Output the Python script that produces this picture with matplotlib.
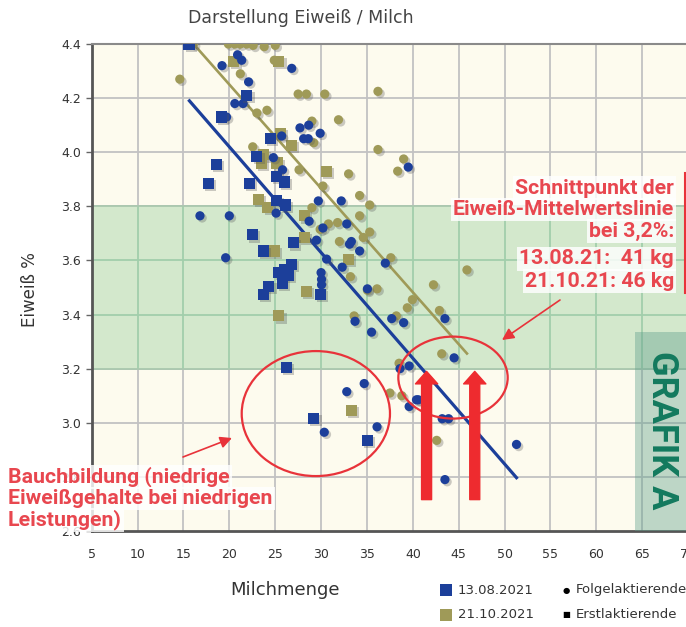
"""
Darstellung Eiweiß / Milch - Streudiagramm mit Mittelwertslinien
"""
import matplotlib

matplotlib.use("Agg")
import matplotlib.patheffects as pe
import matplotlib.pyplot as plt
import numpy as np
from matplotlib.patches import Ellipse, Rectangle

# ---------------------------------------------------------------------------
# Daten
# ---------------------------------------------------------------------------
# 13.08.2021 - Folgelaktierende (Kreise)
blue_circ_x = [20.9, 21.35, 19.2, 22.1, 20.6, 21.5, 19.7, 24.8, 25.7, 26.8, 27.7, 28.65,
               29.9, 28.1, 28.6, 25.8, 29.7, 32.2, 25.1, 16.8, 20.0, 28.7, 30.2, 32.8,
               29.5, 33.1, 33.3, 34.2, 30.6, 19.6, 32.3, 39.5, 37.0, 30.0, 30.05, 30.05,
               35.05, 33.7, 35.5, 37.7, 39.0, 43.5, 44.5, 38.6, 39.6, 39.6, 40.4, 40.6,
               43.2, 43.9, 51.3, 43.5, 32.8, 34.7, 30.35, 36.1]
blue_circ_y = [4.36, 4.34, 4.32, 4.26, 4.18, 4.18, 4.13, 3.98, 4.06, 4.31, 4.09, 4.10,
               4.07, 4.05, 4.05, 3.935, 3.82, 3.82, 3.775, 3.765, 3.765, 3.745, 3.72, 3.735,
               3.675, 3.66, 3.67, 3.635, 3.605, 3.61, 3.575, 3.945, 3.59, 3.555, 3.53, 3.51,
               3.495, 3.375, 3.335, 3.385, 3.37, 3.385, 3.24, 3.20, 3.21, 3.06, 3.085, 3.085,
               3.015, 3.015, 2.92, 2.79, 3.115, 3.145, 2.965, 2.985]

# 13.08.2021 - Erstlaktierende (Quadrate)
blue_sq_x = [15.6, 21.9, 19.1, 24.5, 23.0, 18.6, 17.7, 22.2, 25.1, 26.0, 25.1, 26.1, 22.5,
             23.7, 27.0, 26.8, 25.4, 26.0, 26.4, 25.8, 24.3, 23.7, 29.9, 26.25, 29.2, 35.05]
blue_sq_y = [4.40, 4.21, 4.13, 4.05, 3.985, 3.955, 3.885, 3.885, 3.91, 3.89, 3.82, 3.805, 3.695,
             3.635, 3.665, 3.585, 3.555, 3.565, 3.545, 3.515, 3.505, 3.475, 3.475, 3.205, 3.015, 2.935]

# 21.10.2021 - Folgelaktierende (Kreise)
olive_circ_x = [16.1, 19.9, 20.6, 21.2, 21.9, 22.6, 23.8, 25.0, 24.9, 14.6, 21.2, 23.0, 24.1,
                22.55, 27.5, 28.4, 30.4, 36.2, 29.0, 31.9, 29.2, 36.2, 27.6, 33.0, 30.2, 34.2,
                35.3, 29.0, 34.2, 30.8, 31.8, 29.9, 35.3, 32.0, 34.6, 33.2, 38.35, 39.0, 37.6,
                35.05, 36.1, 33.6, 42.25, 45.9, 39.95, 39.4, 42.9, 38.2, 43.15, 38.5, 37.5,
                38.8, 42.6]
olive_circ_y = [4.40, 4.40, 4.40, 4.40, 4.40, 4.395, 4.39, 4.395, 4.34, 4.27, 4.29, 4.145, 4.155,
                4.02, 4.215, 4.215, 4.215, 4.225, 4.115, 4.12, 4.035, 4.01, 3.935, 3.92, 3.875, 3.84,
                3.805, 3.795, 3.765, 3.735, 3.74, 3.715, 3.705, 3.67, 3.685, 3.54, 3.93, 3.975, 3.61,
                3.49, 3.495, 3.395, 3.51, 3.565, 3.455, 3.425, 3.415, 3.395, 3.255, 3.22, 3.11,
                3.10, 2.935]

# 21.10.2021 - Erstlaktierende (Quadrate)
olive_sq_x = [20.5, 25.4, 25.6, 26.8, 23.7, 23.5, 25.2, 30.6, 23.2, 24.2, 28.2, 28.2, 24.9,
              33.0, 28.4, 25.4, 33.3]
olive_sq_y = [4.335, 4.335, 4.07, 4.025, 3.99, 3.96, 3.96, 3.93, 3.825, 3.795, 3.765, 3.685, 3.635,
              3.605, 3.485, 3.395, 3.045]

# Mittelwertslinien (Endpunkte)
blue_line_x = [15.65, 51.3]
blue_line_y = [4.19, 2.797]
olive_line_x = [16.1, 45.9]
olive_line_y = [4.40, 3.256]

# Schnittpunkte bei 3,2 %
cross_x = [41.5, 46.75]
cross_y_top = 3.19
cross_y_bottom = 2.716

x_ticks = np.arange(5, 75, 5)
y_ticks = [2.6, 2.8, 3.0, 3.2, 3.4, 3.6, 3.8, 4.0, 4.2, 4.4]

BLUE = "#1c3f9a"
OLIVE = "#9f9a58"
RED = "#e8333a"
RED_TXT = "#e8474f"

W, H = 686, 627


def fx(px):
    return px / W


def fy(py):
    return 1 - py / H


fig = plt.figure(figsize=(W / 100, H / 100), dpi=100)
fig.patch.set_facecolor("white")

# x: 5 -> 91.7 px, 9.175 px pro Einheit ; y: 4.4 -> 44 px, 2.6 -> 531 px
ax = fig.add_axes([fx(91.7), fy(531), (72 - 5) * 9.175 / W, (531 - 44) / H])
ax.set_xlim(5, 72)
ax.set_ylim(2.6, 4.4)
ax.set_facecolor("#fdfbee")

# Gitter + grüner Bereich
grid_gray = "#c2c2c2"
grid_green = "#a2ceab"
ax.vlines(x_ticks[1:], 2.6, 4.4, color=grid_gray, lw=1.3, zorder=1)
ax.hlines(y_ticks[1:-1], 5, 72, color=grid_gray, lw=1.3, zorder=1)
ax.axhspan(3.2, 3.8, color="#d3e8cc", lw=0, zorder=1.5)
ax.vlines(x_ticks[1:], 3.2, 3.8, color=grid_green, lw=1.3, zorder=1.6)
ax.hlines([3.4, 3.6], 5, 72, color=grid_green, lw=1.3, zorder=1.6)
ax.hlines([3.2, 3.8], 5, 72, color="#aac8ae", lw=1.3, zorder=1.6)

# Mittelwertslinien
ax.plot(blue_line_x, blue_line_y, color=BLUE, lw=2.3, zorder=2.5)
ax.plot(olive_line_x, olive_line_y, color=OLIVE, lw=1.9, zorder=2.5)

shadow = [pe.SimplePatchShadow(offset=(1.6, -1.6), shadow_rgbFace="#555555", alpha=0.3),
          pe.Normal()]
ax.scatter(olive_circ_x, olive_circ_y, s=44, marker="o", color=OLIVE, lw=0,
           zorder=3, path_effects=shadow)
ax.scatter(olive_sq_x, olive_sq_y, s=64, marker="s", color=OLIVE, lw=0,
           zorder=3, path_effects=shadow)
ax.scatter(blue_circ_x, blue_circ_y, s=44, marker="o", color=BLUE, lw=0,
           zorder=3.2, path_effects=shadow)
ax.scatter(blue_sq_x, blue_sq_y, s=64, marker="s", color=BLUE, lw=0,
           zorder=3.2, path_effects=shadow)

# Achsen
ax.set_xticks(x_ticks)
ax.set_yticks(y_ticks)
ax.set_yticklabels([f"{v:.1f}" for v in y_ticks])
ax.tick_params(axis="both", labelsize=9, labelcolor="#333333", color="#666666",
               length=4, width=1)
ax.tick_params(axis="x", pad=12, length=0)
ax.spines["right"].set_visible(False)
ax.spines["left"].set_color("#555555")
ax.spines["left"].set_linewidth(2)
ax.spines["bottom"].set_color("#555555")
ax.spines["bottom"].set_linewidth(2)
ax.spines["top"].set_color("#8a8a8a")
ax.spines["top"].set_linewidth(1.5)

fig.text(fx(301), fy(18), "Darstellung Eiweiß / Milch", ha="center", va="center",
         fontsize=12.5, color="#444444")
fig.text(fx(30), fy(290), "Eiweiß %", rotation=90, ha="center", va="center",
         fontsize=12, color="#333333")
fig.text(fx(285), fy(590), "Milchmenge", ha="center", va="center",
         fontsize=13, color="#333333")

# Legende
for py, col, lab in [(590, BLUE, "13.08.2021"), (615, OLIVE, "21.10.2021")]:
    fig.add_artist(Rectangle((fx(440), fy(py + 6)), 12 / W, 12 / H,
                             transform=fig.transFigure, color=col, lw=0))
    fig.text(fx(458), fy(py), lab, ha="left", va="center", fontsize=9.5, color="#333333")
for py, sym, lab in [(590, "●", "Folgelaktierende"), (615, "■", "Erstlaktierende")]:
    fig.text(fx(566), fy(py), sym, ha="center", va="center", fontsize=6, color="black")
    fig.text(fx(576), fy(py), lab, ha="left", va="center", fontsize=9.5, color="#333333")

# Markierungen
ax.add_patch(Ellipse((29.43, 3.034), 16.16, 0.462, fill=False, ec=RED, lw=1.6, zorder=5))
ax.add_patch(Ellipse((44.38, 3.167), 11.92, 0.303, fill=False, ec=RED, lw=1.6, zorder=5))

for cx in cross_x:
    ax.annotate("", xy=(cx, cross_y_top), xytext=(cx, cross_y_bottom),
                arrowprops=dict(arrowstyle="simple,head_length=0.45,head_width=0.8,tail_width=0.36",
                                color="#ee2b2f", mutation_scale=20, shrinkA=0, shrinkB=0),
                zorder=6)

for tail, head in [((183, 457), (232, 438)), ((560, 300), (502, 340))]:
    fig.add_artist(plt.Annotation("", xy=(fx(head[0]), fy(head[1])),
                                  xytext=(fx(tail[0]), fy(tail[1])),
                                  xycoords="figure fraction", textcoords="figure fraction",
                                  arrowprops=dict(arrowstyle="-|>,head_length=0.5,head_width=0.25",
                                                  color=RED, lw=1.2, mutation_scale=14,
                                                  shrinkA=0, shrinkB=0)))

# GRAFIK A
fig.add_artist(Rectangle((fx(635), fy(531)), 60 / W, (531 - 332) / H,
                         transform=fig.transFigure, color="#5f9f8c", alpha=0.4, lw=0))
fig.text(fx(662), fy(430), "GRAFIK A", rotation=-90, ha="center", va="center",
         fontsize=26, fontweight="bold", color="#137a5e", family="Roboto")

# Texte
box = dict(facecolor="white", alpha=0.82, edgecolor="none", pad=1.5)
txt_kw = dict(fontsize=15.3, color=RED_TXT, family="Roboto", fontweight="semibold", bbox=box)
left_lines = ["Bauchbildung (niedrige", "Eiweißgehalte bei niedrigen", "Leistungen)"]
for i, line in enumerate(left_lines):
    fig.text(fx(8), fy(477 + 21.5 * i), line, ha="left", va="center", **txt_kw)

right_lines = ["Schnittpunkt der", "Eiweiß-Mittelwertslinie", "bei 3,2%:"]
for i, line in enumerate(right_lines):
    fig.text(fx(674), fy(188 + 21.5 * i), line, ha="right", va="center", **txt_kw)
for i, line in enumerate(["13.08.21:  41 kg", "21.10.21: 46 kg"]):
    fig.text(fx(674), fy(259 + 22 * i), line, ha="right", va="center", **txt_kw)
fig.add_artist(plt.Line2D([fx(685), fx(685)], [fy(173), fy(293)], transform=fig.transFigure,
                          color=RED, lw=1.5))

plt.savefig("out.png", dpi=100)
